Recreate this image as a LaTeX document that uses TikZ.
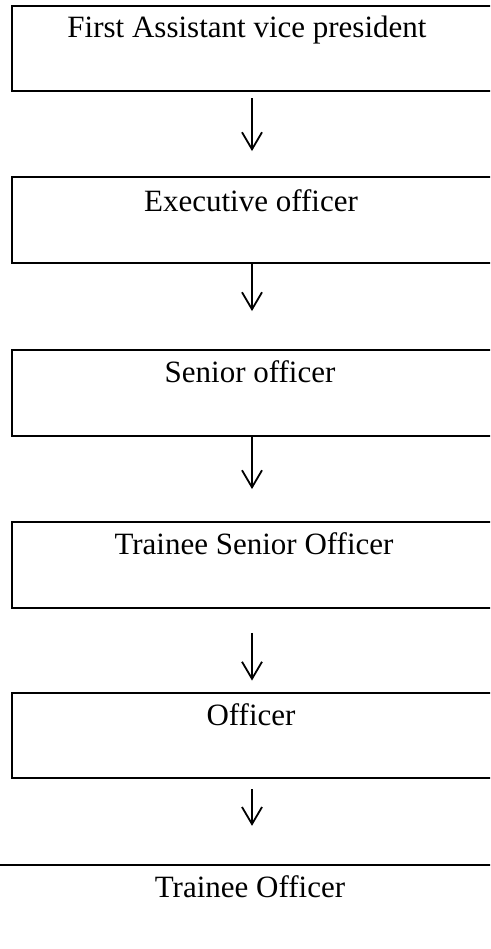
\documentclass[tikz,border=0pt]{standalone}
\usepackage{fontspec}
\setmainfont{Liberation Serif}
\usetikzlibrary{arrows.meta}
\begin{document}
\begin{tikzpicture}[x=1pt,y=-1pt,
  rankbox/.style={draw=black, line width=2.4pt, rectangle, minimum width=480pt, minimum height=85.5pt, inner sep=0pt},
  lastbox/.style={draw=black, line width=2.4pt, rectangle, minimum width=544pt, minimum height=85.5pt, inner sep=0pt},
  lbl/.style={font=\fontsize{31}{36}\selectfont, inner sep=0pt, anchor=base},
  conn/.style={line width=1.8pt, -{Straight Barb[length=17pt,width=20pt,line width=1.8pt]}}]
\useasboundingbox (0,0) rectangle (490,949);
\clip (0,0) rectangle (490,949);
\node[rankbox] (b1) at (252,48.5) {};
\node[rankbox] (b2) at (252,220) {};
\node[rankbox] (b3) at (252,393) {};
\node[rankbox] (b4) at (252,565) {};
\node[rankbox] (b5) at (252,735.5) {};
\node[lastbox] (b6) at (252,907.75) {};
\node[lbl] (t1) at ([xshift=-5pt,yshift=-33pt]b1.north) {First Assistant vice president};
\node[lbl] (t2) at ([xshift=-1pt,yshift=-35pt]b2.north) {Executive officer};
\node[lbl] (t3) at ([xshift=-2pt,yshift=-33pt]b3.north) {Senior officer};
\node[lbl] (t4) at ([xshift=2pt,yshift=-33pt]b4.north) {Trainee Senior Officer};
\node[lbl] (t5) at ([xshift=-1pt,yshift=-34pt]b5.north) {Officer};
\node[lbl] (t6) at ([xshift=-2pt,yshift=-34pt]b6.north) {Trainee Officer};
\draw[conn, shorten <=6pt, shorten >=25pt] (b1.south) -- (b2.north);
\draw[conn, shorten >=38pt] (b2.south) -- (b3.north);
\draw[conn, shorten >=32pt] (b3.south) -- (b4.north);
\draw[conn, shorten <=24pt, shorten >=11pt] (b4.south) -- (b5.north);
\draw[conn, shorten <=10pt, shorten >=38pt] (b5.south) -- (b6.north);
\end{tikzpicture}
\end{document}
